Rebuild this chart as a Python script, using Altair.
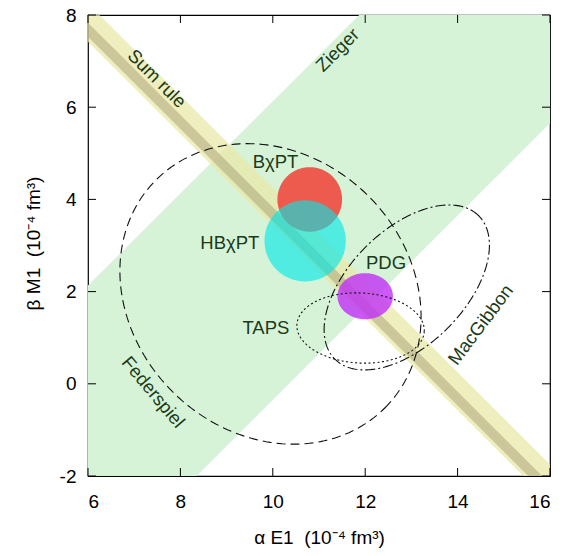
import altair as alt
import numpy as np
import pandas as pd

# ---- data ----
x_ticks = [6, 8, 10, 12, 14, 16]
y_ticks = [-2, 0, 2, 4, 6, 8]

# bands: sum rule (alpha+beta) and Zieger (alpha-beta)
sum_rule_outer = [13.42, 14.25]
sum_rule_inner = [13.53, 13.83]
zieger_diff = [3.87, 10.35]

blob_names = ["BχPT", "HBχPT", "PDG"]
blob_cx = [10.8, 10.7, 12.0]
blob_cy = [4.0, 3.1, 1.9]
blob_rx = [0.7, 0.88, 0.6]
blob_ry = [0.7, 0.88, 0.5]
blob_colors = ["#f04a40", "#00e6e6", "#c030f8"]
blob_opacity = [0.9, 0.62, 0.8]

contour_names = ["Federspiel", "MacGibbon", "TAPS"]
contour_cx = [9.95, 12.9, 11.9]
contour_cy = [1.95, 2.09, 1.21]
contour_a = [3.5, 2.2, 1.38]
contour_b = [3.0, 1.25, 0.76]
contour_tilt = [-45, 45, -3]
contour_dash = [[9, 5], [10, 3, 2, 3], [2, 2.5]]

label_text = ["Sum rule", "Zieger", "Federspiel", "MacGibbon", "BχPT", "HBχPT", "TAPS", "PDG"]
label_x = [7.49, 11.40, 7.41, 14.50, 10.06, 9.07, 9.85, 12.45]
label_y = [6.62, 7.24, -0.18, 1.28, 4.82, 3.05, 1.22, 2.63]
label_angle = [45, 315, 50, 307, 0, 0, 0, 0]

FONT = "Liberation Sans"
W, H = 462, 461
NB = "\u00a0"

xscale = alt.Scale(domain=[6, 16], nice=False, zero=False)
yscale = alt.Scale(domain=[-2, 8], nice=False, zero=False)
xaxis = alt.Axis(values=x_ticks, ticks=False, domain=False, grid=False, labelPadding=16,
                 labelFontSize=19, labelFont=FONT, labelColor="black",
                 labelExpr="'' + datum.value",
                 title=f"α E1{NB}{NB}(10⁻⁴ fm³)", titleFont=FONT, titleFontSize=19,
                 titleFontWeight="normal", titleColor="black",
                 titleX=231, titleY=61, titleBaseline="middle", titleAlign="center")
yaxis = alt.Axis(values=y_ticks, ticks=False, domain=False, grid=False, labelPadding=12,
                 labelFontSize=19, labelFont=FONT, labelColor="black",
                 labelExpr="'' + datum.value",
                 title=f"β M1{NB}{NB}(10⁻⁴ fm³)", titleFont=FONT, titleFontSize=19,
                 titleFontWeight="normal", titleColor="black", titleAngle=-90,
                 titleX=-55, titleY=228, titleBaseline="middle", titleAlign="center")
X = alt.X("a:Q", scale=xscale, axis=xaxis)
Y = alt.Y("b:Q", scale=yscale, axis=yaxis)
Y2 = alt.Y2("b2:Q")

xs = [4.0, 18.0]

def band(lo, hi, sign):
    # sign=-1: beta = c - alpha ; sign=+1: beta = alpha - c
    rows = []
    for x in xs:
        if sign < 0:
            rows.append({"a": x, "b": lo - x, "b2": hi - x})
        else:
            rows.append({"a": x, "b": x - hi, "b2": x - lo})
    return pd.DataFrame(rows)

layers = []
layers.append(alt.Chart(band(zieger_diff[0], zieger_diff[1], 1)).mark_area(
    clip=True, color="#d6f3d8", orient="vertical").encode(x=X, y=Y, y2=Y2))
layers.append(alt.Chart(band(sum_rule_outer[0], sum_rule_outer[1], -1)).mark_area(
    clip=True, color="#e8e8a8", opacity=0.75, orient="vertical").encode(x=X, y=Y, y2=Y2))
layers.append(alt.Chart(band(sum_rule_inner[0], sum_rule_inner[1], -1)).mark_area(
    clip=True, color="#a8a078", opacity=0.5, orient="vertical").encode(x=X, y=Y, y2=Y2))

t_half = np.linspace(np.pi, 0, 121)
for i in range(len(blob_names)):
    df = pd.DataFrame({
        "a": blob_cx[i] + blob_rx[i] * np.cos(t_half),
        "b": blob_cy[i] - blob_ry[i] * np.sin(t_half),
        "b2": blob_cy[i] + blob_ry[i] * np.sin(t_half),
    })
    layers.append(alt.Chart(df).mark_area(
        color=blob_colors[i], opacity=blob_opacity[i], orient="vertical").encode(x=X, y=Y, y2=Y2))

t_full = np.linspace(0, 2 * np.pi, 241)
for i in range(len(contour_names)):
    th = np.deg2rad(contour_tilt[i])
    a, b = contour_a[i], contour_b[i]
    df = pd.DataFrame({
        "a": contour_cx[i] + a * np.cos(th) * np.cos(t_full) - b * np.sin(th) * np.sin(t_full),
        "b": contour_cy[i] + a * np.sin(th) * np.cos(t_full) + b * np.cos(th) * np.sin(t_full),
        "i": np.arange(len(t_full)),
    })
    layers.append(alt.Chart(df).mark_line(
        color="#111111", strokeWidth=1.1, strokeDash=contour_dash[i], clip=True).encode(
        x=X, y=Y, order="i:Q"))

labels = pd.DataFrame({"t": label_text, "a": label_x, "b": label_y, "ang": label_angle})
layers.append(alt.Chart(labels).mark_text(
    font=FONT, fontSize=18.5, color="#1a3a1a", align="center", baseline="middle").encode(
    x=X, y=Y, text="t:N", angle=alt.Angle("ang:Q", scale=None)))

# inward tick marks on all four sides
xt = pd.DataFrame({"a": x_ticks})
yt = pd.DataFrame({"b": y_ticks})
tick_style = dict(color="black", strokeWidth=1)
layers.append(alt.Chart(xt).mark_rule(**tick_style).encode(x=X, y=alt.value(H), y2=alt.value(H - 8)))
layers.append(alt.Chart(xt).mark_rule(**tick_style).encode(x=X, y=alt.value(0), y2=alt.value(8)))
layers.append(alt.Chart(yt).mark_rule(**tick_style).encode(y=Y, x=alt.value(0), x2=alt.value(8)))
layers.append(alt.Chart(yt).mark_rule(**tick_style).encode(y=Y, x=alt.value(W), x2=alt.value(W - 8)))

chart = alt.layer(*layers).properties(
    width=W, height=H,
    autosize=alt.AutoSizeParams(type="none"),
    padding={"left": 80, "top": 7, "right": 26, "bottom": 72},
    background="white",
).configure_view(stroke="black", strokeWidth=1.2)

chart.save("out.html", embed_options={"renderer": "svg", "actions": False})
